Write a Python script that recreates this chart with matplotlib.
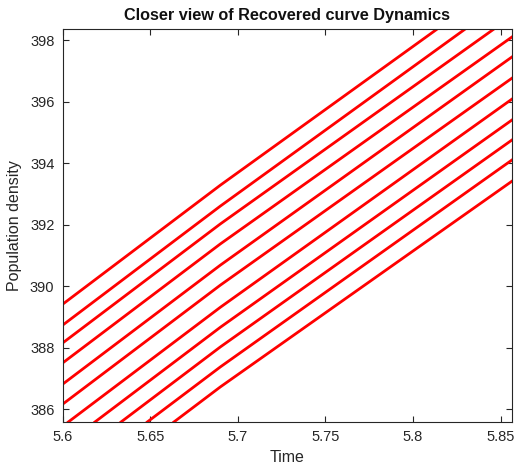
import numpy as np
import matplotlib
matplotlib.use('Agg')
from matplotlib import pyplot as plt
from matplotlib.ticker import FormatStrFormatter

plt.rcParams['font.family'] = ['Liberation Sans', 'DejaVu Sans']

# each curve: start, bend, end (time, population density) as read from the zoomed view
t_start = [5.600, 5.600, 5.600, 5.600, 5.600, 5.600, 5.6032, 5.6184, 5.6333, 5.6483, 5.6635]
y_start = [389.41, 388.73, 388.15, 387.50, 386.81, 386.16, 385.58, 385.58, 385.58, 385.58, 385.58]
t_bend = [5.69] * 11
y_bend = [393.28, 392.60, 392.02, 391.37, 390.68, 390.03, 389.31, 388.66, 388.02, 387.37, 386.72]
t_end = [5.8136, 5.8296, 5.846, 5.8565, 5.8565, 5.8565, 5.8565, 5.8565, 5.8565, 5.8565, 5.8565]
y_end = [398.35, 398.35, 398.35, 398.10, 397.45, 396.76, 396.08, 395.40, 394.75, 394.10, 393.41]

x_ticks = [5.6, 5.65, 5.7, 5.75, 5.8, 5.85]
y_ticks = [386, 388, 390, 392, 394, 396, 398]

fig = plt.figure(figsize=(5.16, 4.67), dpi=100)
ax = fig.add_axes([0.1215, 0.0964, 0.8707, 0.8409])

for i in range(len(t_start)):
    ax.plot([t_start[i], t_bend[i], t_end[i]], [y_start[i], y_bend[i], y_end[i]],
            color='red', linewidth=2.0)

ax.set_xlim(5.6, 5.8565)
ax.set_ylim(385.58, 398.35)
ax.set_xticks(x_ticks)
ax.set_yticks(y_ticks)
ax.xaxis.set_major_formatter(FormatStrFormatter('%g'))

gray = '#262626'
for s in ax.spines.values():
    s.set_color(gray)
    s.set_linewidth(0.8)
ax.tick_params(direction='in', length=4, width=0.8, colors=gray, labelsize=10.5,
               top=True, right=True, pad=6)

ax.set_title('Closer view of Recovered curve Dynamics', fontsize=11.7, fontweight='bold',
             color='#111111', pad=7)
ax.set_xlabel('Time', fontsize=11.5, color=gray, labelpad=4)
ax.set_ylabel('Population density', fontsize=11.5, color=gray, labelpad=6)

plt.savefig('out.png', dpi=100)
